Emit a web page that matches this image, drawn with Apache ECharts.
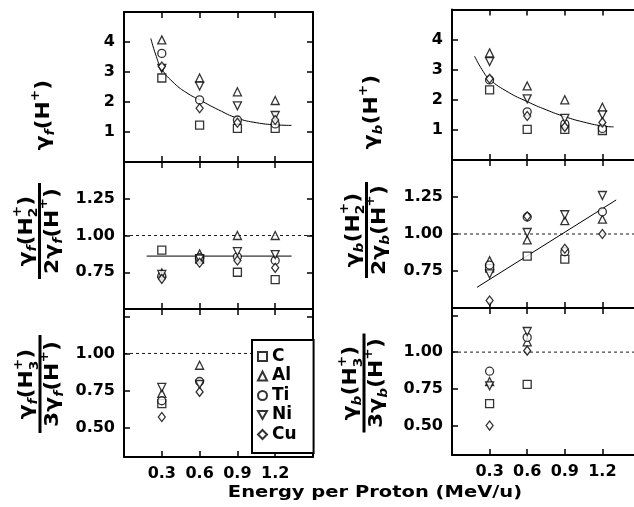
<!DOCTYPE html>
<html><head><meta charset="utf-8">
<script src="https://cdn.jsdelivr.net/npm/echarts@6/dist/echarts.min.js"></script>
<style>html,body{margin:0;padding:0;background:#fff}#c{width:634px;height:507px}</style>
</head><body><div id="c"></div>
<script>
// ---------- data ----------
const energies = [0.3, 0.6, 0.9, 1.2];
const xTickVals = [0.3, 0.6, 0.9, 1.2];
const targets = ['C', 'Al', 'Ti', 'Ni', 'Cu'];

// forward yield of H+  (top left)
const fH1_C  = [2.80, 1.23, 1.12, 1.12];
const fH1_Al = [4.07, 2.80, 2.34, 2.05];
const fH1_Ti = [3.62, 2.07, 1.40, 1.27];
const fH1_Ni = [3.12, 2.53, 1.87, 1.55];
const fH1_Cu = [3.18, 1.79, 1.31, 1.40];
// backward yield of H+ (top right)
const bH1_C  = [2.33, 1.02, 1.02, 0.98];
const bH1_Al = [3.56, 2.46, 2.00, 1.75];
const bH1_Ti = [2.66, 1.60, 1.20, 1.05];
const bH1_Ni = [3.27, 2.03, 1.38, 1.50];
const bH1_Cu = [2.70, 1.46, 1.10, 1.25];
// forward H2+ ratio (middle left)
const fH2_C  = [0.90, 0.84, 0.75, 0.70];
const fH2_Al = [0.745, 0.875, 1.00, 1.00];
const fH2_Ti = [0.725, 0.85, 0.855, 0.83];
const fH2_Ni = [0.735, 0.84, 0.89, 0.87];
const fH2_Cu = [0.705, 0.815, 0.83, 0.78];
// backward H2+ ratio (middle right)
const bH2_C  = [0.77, 0.85, 0.83, null];
const bH2_Al = [0.82, 0.96, 1.09, 1.10];
const bH2_Ti = [0.79, 1.115, 0.88, 1.15];
const bH2_Ni = [0.73, 1.01, 1.13, 1.26];
const bH2_Cu = [0.55, 1.12, 0.90, 1.00];
// forward H3+ ratio (bottom left)
const fH3_C  = [0.66, null];
const fH3_Al = [0.73, 0.92];
const fH3_Ti = [0.68, 0.81];
const fH3_Ni = [0.77, 0.79];
const fH3_Cu = [0.57, 0.74];
// backward H3+ ratio (bottom right)
const bH3_C  = [0.65, 0.78];
const bH3_Al = [0.80, 1.07];
const bH3_Ti = [0.87, 1.10];
const bH3_Ni = [0.77, 1.14];
const bH3_Cu = [0.50, 1.01];

// drawn guide curves
const curveF1 = [[0.213,4.12],[0.25,3.60],[0.30,3.10],[0.40,2.62],[0.50,2.30],[0.60,2.07],[0.75,1.74],[0.90,1.46],[1.05,1.31],[1.20,1.24],[1.33,1.22]];
const curveB1 = [[0.18,3.45],[0.24,3.00],[0.30,2.68],[0.45,2.25],[0.60,1.94],[0.75,1.67],[0.90,1.44],[1.05,1.26],[1.20,1.13],[1.29,1.10]];
const lineF2 = [[0.18,0.86],[1.33,0.86]];
const lineB2 = [[0.20,0.64],[1.31,1.23]];
const refOne = [[0,1],[1.5,1]];

// tick values
const yTicksH1 = [1, 2, 3, 4];
const yTicksH2 = [0.75, 1.00, 1.25];
const yTicksH3 = [0.50, 0.75, 1.00, 1.25];
const yLabelsH3 = [0.50, 0.75, 1.00];

// ---------- build ----------
const FONT = '"DejaVu Sans", sans-serif';
const symbols = {
  C: 'rect', Al: 'triangle', Ti: 'circle',
  Ni: 'path://M0,0 L10,0 L5,9 Z', Cu: 'diamond'
};
const panels = [
  {g:{left:124, top:12, width:189, height:150}, min:0, max:5, ticks:yTicksH1, labels:yTicksH1, dec:0, vals:[fH1_C,fH1_Al,fH1_Ti,fH1_Ni,fH1_Cu], xlab:false, extra:[{d:curveF1, smooth:true}]},
  {g:{left:452, top:9.5, width:188, height:150.5}, min:0, max:5, ticks:yTicksH1, labels:yTicksH1, dec:0, vals:[bH1_C,bH1_Al,bH1_Ti,bH1_Ni,bH1_Cu], xlab:false, extra:[{d:curveB1, smooth:true}]},
  {g:{left:124, top:162, width:189, height:147}, min:0.5, max:1.5, ticks:yTicksH2, labels:yTicksH2, dec:2, vals:[fH2_C,fH2_Al,fH2_Ti,fH2_Ni,fH2_Cu], xlab:false, extra:[{d:refOne, dash:true},{d:lineF2}]},
  {g:{left:452, top:160, width:188, height:148}, min:0.5, max:1.5, ticks:yTicksH2, labels:yTicksH2, dec:2, vals:[bH2_C,bH2_Al,bH2_Ti,bH2_Ni,bH2_Cu], xlab:false, extra:[{d:refOne, dash:true},{d:lineB2}]},
  {g:{left:124, top:309, width:189, height:148}, min:0.3, max:1.3, ticks:yTicksH3, labels:yLabelsH3, dec:2, vals:[fH3_C,fH3_Al,fH3_Ti,fH3_Ni,fH3_Cu], xlab:true, extra:[{d:refOne, dash:true}]},
  {g:{left:452, top:308, width:188, height:147}, min:0.3, max:1.3, ticks:yTicksH3, labels:yLabelsH3, dec:2, vals:[bH3_C,bH3_Al,bH3_Ti,bH3_Ni,bH3_Cu], xlab:true, extra:[{d:refOne, dash:true}]}
];

const grid = [], xAxis = [], yAxis = [], series = [];
const axLine = {show:true, onZero:false, lineStyle:{color:'#000', width:2}};
const tickStyle = {color:'#000', width:1.5};
const labFont = {fontFamily:FONT, fontWeight:'bold', fontSize:16, color:'#000'};

panels.forEach((p, i) => {
  grid.push(Object.assign({outerBoundsMode:'none', containLabel:false}, p.g));
  ['bottom','top'].forEach((pos, k) => {
    xAxis.push({type:'value', gridIndex:i, position:pos, min:0, max:1.5,
      axisLine:axLine, splitLine:{show:false},
      axisTick:{show:true, inside:true, length:6, lineStyle:tickStyle, customValues:xTickVals},
      axisLabel:{show: k===0 && p.xlab, margin:9, customValues:xTickVals, formatter:v=>v.toFixed(1), ...labFont}});
  });
  ['left','right'].forEach((pos, k) => {
    yAxis.push({type:'value', gridIndex:i, position:pos, min:p.min, max:p.max,
      axisLine:axLine, splitLine:{show:false},
      axisTick:{show:true, inside:true, length:6, lineStyle:tickStyle, customValues:p.ticks},
      axisLabel:{show:k===0, margin:9, customValues:p.labels, formatter:v=>v.toFixed(p.dec), ...labFont}});
  });
  p.extra.forEach(e => {
    series.push({type:'line', xAxisIndex:2*i, yAxisIndex:2*i, data:e.d, smooth:!!e.smooth,
      showSymbol:false, silent:true, z:1,
      lineStyle:{color:'#000', width:e.dash?0.9:1, type:e.dash?[3,3]:'solid'}});
  });
  targets.forEach((t, j) => {
    const pts = [];
    p.vals[j].forEach((v, k) => { if (v !== null) pts.push([energies[k], v]); });
    series.push({type:'scatter', name:t, xAxisIndex:2*i, yAxisIndex:2*i, data:pts,
      symbol:symbols[t], symbolSize: t==='Cu' ? [7,9] : 8, z:3,
      itemStyle:{color:'#fff', borderColor:'#000', borderWidth:1.3}});
  });
});

// ---------- rotated axis titles ----------
const cv = document.createElement('canvas').getContext('2d');
function tw(t, s, it) { cv.font = (it?'italic ':'') + 'bold ' + s + 'px "DejaVu Sans"'; return cv.measureText(t).width; }
// piece: [text, size, baselineShift, stackWithPrevious, italic]
function buildLine(pieces, baseY) {
  let x = 0, prevX = 0; const items = [];
  pieces.forEach(pc => {
    const [t, s, dy, stack, it] = pc;
    const w = tw(t, s, it);
    let px;
    if (stack) { px = prevX; x = Math.max(x, prevX + w); }
    else { px = x; prevX = x; x += w; }
    items.push({t, s, dy, px, it});
  });
  const W = x;
  return items.map(o => ({type:'text', x:o.px - W/2, y: baseY + o.dy - 0.3*o.s,
    style:{text:o.t, font:(o.it?'italic ':'') + 'bold ' + o.s + 'px "DejaVu Sans"', fill:'#000',
      textAlign:'left', textVerticalAlign:'middle', align:'left', verticalAlign:'middle'}}));
}
const M = 19, S = 12;
function yPlus(sub) { return [['γ',M,0],[sub,S,4,false,true],['(',M,0],['H',M,0],['+',S,-11],[')',M,0]]; }
function yH(sub, n) { return [['γ',M,0],[sub,S,4,false,true],['(',M,0],['H',M,0],[n,S,5],['+',S,-11,true],[')',M,0]]; }
function yDen(sub, n) { return [[n,M,0]].concat(yPlus(sub)); }

const SX = 1.15;
function single(cx, cy, pieces) {
  return {type:'group', x:cx, y:cy, rotation:Math.PI/2, scaleX:SX, children: buildLine(pieces, 0)};
}
function fraction(cx, cy, len, num, den) {
  const ch = buildLine(num, -7).concat(buildLine(den, 19));
  ch.push({type:'rect', shape:{x:-len/2/SX, y:-1.5, width:len/SX, height:3}, style:{fill:'#000'}});
  return {type:'group', x:cx, y:cy, rotation:Math.PI/2, scaleX:SX, children:ch};
}

const graphic = [
  single(50, 115, yPlus('f')),
  single(378, 112, yPlus('b')),
  fraction(39.5, 231, 96, yH('f','2'), yDen('f','2')),
  fraction(40, 384, 98, yH('f','3'), yDen('f','3')),
  fraction(366.5, 230, 96, yH('b','2'), yDen('b','2')),
  fraction(364, 383, 99, yH('b','3'), yDen('b','3')),
  {type:'group', x:375, y:493, scaleX:1.3, children:[
    {type:'text', x:0, y:0, style:{text:'Energy per Proton (MeV/u)', font:'bold 15px "DejaVu Sans"', fill:'#000',
      textAlign:'center', textVerticalAlign:'middle', align:'center', verticalAlign:'middle'}}]}
];

const chart = echarts.init(document.getElementById('c'), null, {width:634, height:507});
chart.setOption({
  animation:false,
  backgroundColor:'#fff',
  grid, xAxis, yAxis, series, graphic,
  legend:{orient:'vertical', left:252, top:340, data:targets, selectedMode:false,
    itemWidth:9, itemHeight:9, itemGap:2.5, padding:[8,17,10,5],
    borderColor:'#000', borderWidth:2, backgroundColor:'#fff', z:10,
    textStyle:{fontFamily:FONT, fontWeight:'bold', fontSize:17, color:'#000'}}
});
</script></body></html>
